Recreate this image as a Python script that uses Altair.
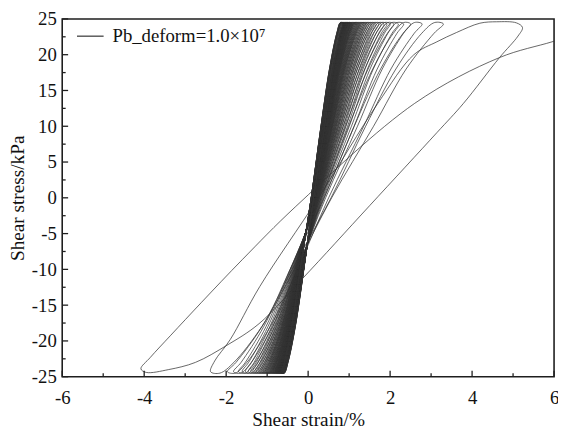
import altair as alt
import pandas as pd

# ---------------- axis tick positions ----------------
X_MAJOR = [-6, -4, -2, 0, 2, 4, 6]
X_MINOR = [-5, -3, -1, 1, 3, 5]
Y_MAJOR = [-25, -20, -15, -10, -5, 0, 5, 10, 15, 20, 25]
Y_MINOR = [-22.5, -17.5, -12.5, -7.5, -2.5, 2.5, 7.5, 12.5, 17.5, 22.5]

SERIES = "Pb_deform=1.0×10⁷"

# ---------------- first half-cycles ----------------
# unloading from the first (off-chart) peak down to the -4 % trough
B0_STRAIN = [7.6, 7.2, 6.6, 5.95, 4.67, 2.6, -0.3, -1.6, -2.6, -3.35, -3.85, -4.08]
B0_STRESS = [24.3, 24.0, 23.0, 21.8, 19.6, 13.2, -1.2, -8.6, -14.6, -19.2, -22.3, -23.9]
# loading from the -4 % trough up to the 5.2 % peak
B1_STRAIN = [-3.95, -3.4, -2.75, -1.98, -1.2, -0.14, 1.5, 3.14, 3.79, 4.67, 5.12, 5.23]
B1_STRESS = [-24.4, -24.0, -23.0, -20.6, -17.6, -11.3, -1.1, 9.1, 13.2, 19.6, 22.6, 23.8]
# unloading from the 5.2 % peak down to the -2.4 % trough
B2_STRAIN = [5.08, 4.6, 4.19, 3.62, 3.14, 2.58, 1.7, 0.25, -1.18, -1.9, -2.28, -2.38]
B2_STRESS = [24.45, 24.6, 24.4, 23.1, 21.8, 20.0, 13.2, 0.0, -12.4, -19.8, -22.8, -24.3]

# ---------------- later cycles: peak / trough strains ----------------
RIGHT_TIPS = [5.23, 3.30, 2.78, 2.50, 2.33, 2.20, 2.09, 2.00, 1.92, 1.85, 1.78, 1.72,
              1.66, 1.61, 1.56, 1.52, 1.48, 1.44, 1.41, 1.38, 1.35, 1.32, 1.29, 1.26,
              1.24, 1.22, 1.20, 1.18, 1.16, 1.14, 1.12, 1.10, 1.08, 1.07, 1.06, 1.04,
              1.03, 1.02, 1.01, 1.00, 0.99, 0.98, 0.97, 0.96, 0.95, 0.94, 0.93, 0.92,
              0.91, 0.90, 0.89, 0.88, 0.875, 0.87, 0.865, 0.86, 0.855, 0.85, 0.85, 0.845]
LEFT_TIPS = [-4.02, -2.38, -1.97, -1.82, -1.70, -1.61, -1.53, -1.46, -1.40, -1.35, -1.30,
             -1.26, -1.22, -1.18, -1.15, -1.12, -1.09, -1.06, -1.04, -1.02, -1.00, -0.98,
             -0.96, -0.94, -0.92, -0.91, -0.89, -0.88, -0.86, -0.85, -0.84, -0.82, -0.81,
             -0.80, -0.79, -0.78, -0.77, -0.76, -0.75, -0.74, -0.735, -0.73, -0.72, -0.715,
             -0.71, -0.70, -0.695, -0.69, -0.685, -0.68, -0.675, -0.67, -0.665, -0.66,
             -0.655, -0.65, -0.65, -0.645, -0.64, -0.64, -0.635]

# loop branch shape (stress level, fraction of the trough-to-peak strain span)
LOAD_STRESS = [-24.5, -23.0, -18.0, -10.0, 0.0, 10.0, 18.0, 23.0, 24.3]
LOAD_FRAC = [0.04, 0.10, 0.22, 0.36, 0.52, 0.70, 0.84, 0.96, 1.0]
UNLOAD_STRESS = [24.5, 23.0, 18.0, 10.0, 0.0, -10.0, -18.0, -23.0, -24.3]
UNLOAD_FRAC = [0.96, 0.90, 0.78, 0.64, 0.48, 0.30, 0.16, 0.04, 0.0]

rows = []


def add(xs, ys):
    for x, y in zip(xs, ys):
        rows.append({"seq": len(rows), "strain": x, "stress": y, "series": SERIES})


add(B0_STRAIN, B0_STRESS)
add(B1_STRAIN, B1_STRESS)
add(B2_STRAIN, B2_STRESS)
for i in range(1, len(RIGHT_TIPS)):
    lo = LEFT_TIPS[i]
    hi = RIGHT_TIPS[i]
    add([lo + (hi - lo) * f for f in LOAD_FRAC], LOAD_STRESS)
    if i + 1 < len(LEFT_TIPS):
        lo2 = LEFT_TIPS[i + 1]
        add([lo2 + (hi - lo2) * f for f in UNLOAD_FRAC], UNLOAD_STRESS)

df = pd.DataFrame(rows)

W, H = 499, 363
FONT = "Liberation Serif"
INK = "#111111"

xscale = alt.Scale(domain=[-6, 6], nice=False, zero=False)
yscale = alt.Scale(domain=[-25, 25], nice=False, zero=False)

common = dict(domain=False, ticks=False, tickSize=0, grid=False, labelFlush=False,
              labelExpr="'' + datum.value", labelFont=FONT, labelFontSize=19,
              labelColor=INK, titleFont=FONT, titleFontSize=19.5,
              titleFontWeight="normal", titleColor=INK, titleBaseline="middle")

xaxis = alt.Axis(values=X_MAJOR, title="Shear strain/%", labelPadding=12,
                 titleX=W / 2, titleY=43, **common)
yaxis = alt.Axis(values=Y_MAJOR, title="Shear stress/kPa", labelPadding=6,
                 titleX=-45, titleY=H / 2, **common)

line = alt.Chart(df).mark_line(
    clip=True, interpolate="catmull-rom", strokeWidth=0.75
).encode(
    x=alt.X("strain:Q", scale=xscale, axis=xaxis),
    y=alt.Y("stress:Q", scale=yscale, axis=yaxis),
    order=alt.Order("seq:Q"),
    color=alt.Color(
        "series:N",
        scale=alt.Scale(range=["#333333"]),
        legend=alt.Legend(
            title=None, orient="none", legendX=14, legendY=3,
            symbolType="stroke", symbolSize=729, symbolStrokeWidth=1.2,
            labelFont=FONT, labelFontSize=19, labelColor=INK,
            labelOffset=8, padding=0, labelLimit=400,
        ),
    ),
)


def xticks(vals, length):
    return alt.Chart(pd.DataFrame({"strain": vals})).mark_rule(
        color="#1e1e1e", strokeWidth=1.3
    ).encode(
        x=alt.X("strain:Q", scale=xscale, axis=xaxis),
        y=alt.value(H), y2=alt.value(H - length),
    )


def yticks(vals, length):
    return alt.Chart(pd.DataFrame({"stress": vals})).mark_rule(
        color="#1e1e1e", strokeWidth=1.3
    ).encode(
        y=alt.Y("stress:Q", scale=yscale, axis=yaxis),
        x=alt.value(0), x2=alt.value(length),
    )


chart = alt.layer(
    line,
    xticks(X_MAJOR, 6), xticks(X_MINOR, 3.5),
    yticks(Y_MAJOR, 6), yticks(Y_MINOR, 3.5),
).properties(
    width=W, height=H,
    autosize=alt.AutoSizeParams(type="none"),
    padding={"left": 55, "top": 8, "right": 4, "bottom": 52},
).configure_view(
    stroke="#1e1e1e", strokeWidth=1.6
).configure_axis(
    labelFont=FONT, titleFont=FONT
).configure_text(
    font=FONT
)

chart.save("out.html", embed_options={"renderer": "svg", "actions": False})
